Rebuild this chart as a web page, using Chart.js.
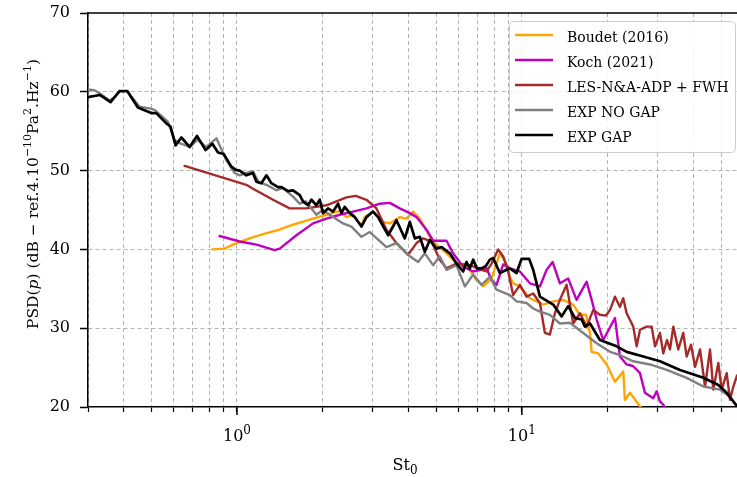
<!DOCTYPE html>
<html>
<head>
<meta charset="utf-8">
<script src="https://cdn.jsdelivr.net/npm/chart.js@4.4.1/dist/chart.umd.min.js"></script>
<style>
  html, body { margin: 0; padding: 0; background: #fff; }
  #wrap { width: 737px; height: 477px; }
</style>
</head>
<body>
<div id="wrap"><canvas id="graficoPsd" width="737" height="477"></canvas></div>
<script>
// eixos
const ticksX = [0.3, 0.4, 0.5, 0.6, 0.7, 0.8, 0.9, 1, 2, 3, 4, 5, 6, 7, 8, 9, 10, 20, 30, 40, 50];
const decadasX = [1, 10];
const ticksY = [20, 30, 40, 50, 60, 70];

const legendas = ['Boudet (2016)', 'Koch (2021)', 'LES-N&A-ADP + FWH', 'EXP NO GAP', 'EXP GAP'];
const cores = ['#ffa500', '#bf00bf', '#a52a2a', '#808080', '#000000'];

// Boudet (2016)
const boudetSt = [0.821, 0.905, 0.968, 1.108, 1.251, 1.413, 1.451, 1.531, 1.661, 1.849,
  2.061, 2.295, 2.423, 2.556, 2.661, 2.735, 2.810, 3.004, 3.258, 3.439,
  3.729, 3.936, 4.151, 4.383, 4.753, 5.017, 5.439, 5.897, 6.394, 6.933,
  7.313, 7.829, 8.370, 8.838, 9.076, 9.320, 9.840, 10.67, 11.88, 12.88,
  13.97, 15.14, 15.99, 16.79, 17.34, 17.58, 18.54, 19.85, 21.22, 22.69,
  23.00, 23.95, 25.98, 27.05];
const boudetPsd = [40.0, 40.1, 40.6, 41.4, 42.0, 42.5, 42.7, 43.0, 43.4, 43.9,
  44.4, 44.9, 44.1, 44.4, 43.5, 43.1, 44.1, 44.8, 43.5, 43.3,
  44.1, 43.9, 44.8, 43.9, 41.6, 40.6, 39.5, 38.3, 38.0, 36.1,
  35.3, 36.3, 39.5, 38.2, 36.5, 35.7, 35.3, 33.8, 33.0, 33.4,
  33.6, 33.0, 31.7, 31.7, 29.4, 27.0, 26.8, 25.4, 23.2, 24.5,
  20.9, 21.8, 20.1, 19.4];

// Koch (2021)
const kochSt = [0.869, 1.022, 1.170, 1.356, 1.413, 1.617, 1.849, 2.061, 2.295, 2.556,
  2.848, 3.171, 3.439, 3.729, 4.043, 4.267, 4.627, 4.880, 5.439, 5.737,
  6.220, 6.745, 7.516, 7.829, 8.149, 8.598, 9.076, 9.840, 10.67, 11.57,
  12.21, 12.82, 13.60, 14.54, 15.56, 16.88, 17.58, 18.30, 19.30, 21.22,
  22.09, 23.32, 24.54, 25.98, 27.04, 28.92, 29.72, 30.53, 31.35, 32.05];
const kochPsd = [41.7, 41.0, 40.6, 39.9, 40.1, 41.8, 43.3, 43.9, 44.4, 44.8,
  45.2, 45.8, 45.9, 45.2, 44.6, 44.1, 42.5, 41.1, 41.1, 39.5,
  37.8, 37.2, 37.6, 36.1, 35.5, 38.1, 37.6, 37.2, 35.7, 35.3,
  37.4, 38.4, 35.7, 36.3, 33.6, 35.9, 33.6, 31.1, 28.5, 31.3,
  26.4, 25.4, 25.2, 24.3, 21.8, 21.1, 22.0, 20.7, 20.3, 19.7];

// LES-N&A-ADP + FWH
const lesSt = [0.655, 1.079, 1.138, 1.338, 1.531, 1.753, 2.061, 2.423, 2.612, 2.848,
  3.087, 3.348, 3.630, 3.987, 4.267, 4.501, 4.818, 5.152, 5.439, 5.897,
  6.567, 7.219, 7.516, 7.829, 8.258, 8.598, 8.954, 9.320, 9.840, 10.39,
  10.96, 11.57, 12.04, 12.54, 13.06, 13.60, 14.36, 15.14, 15.99, 16.88,
  17.80, 18.79, 19.73, 20.38, 21.22, 22.09, 22.69, 23.32, 24.60, 25.29,
  25.98, 27.42, 28.55, 29.33, 30.53, 31.35, 32.31, 33.11, 34.01, 35.40,
  36.86, 37.88, 39.24, 40.54, 42.20, 43.95, 45.76, 46.98, 48.92, 50.28,
  52.36, 53.78, 55.24, 56.92];
const lesPsd = [50.6, 48.2, 47.7, 46.3, 45.2, 45.2, 45.6, 46.6, 46.8, 46.3,
  45.2, 42.5, 40.8, 39.3, 40.8, 41.4, 41.0, 38.7, 37.6, 38.2,
  38.0, 37.4, 37.2, 38.2, 40.0, 39.1, 37.2, 34.2, 35.5, 34.0,
  34.4, 33.2, 29.4, 29.2, 31.9, 33.6, 35.5, 30.6, 31.9, 30.2,
  32.3, 31.7, 31.6, 32.3, 34.0, 32.7, 33.8, 31.9, 30.2, 27.7,
  29.8, 30.2, 30.2, 27.7, 29.4, 26.8, 28.5, 27.3, 30.2, 27.3,
  29.4, 26.4, 27.9, 25.1, 27.3, 22.6, 27.3, 22.2, 25.6, 22.2,
  24.3, 20.9, 22.6, 24.0];

// EXP NO GAP
const semGapSt = [0.299, 0.316, 0.330, 0.357, 0.375, 0.387, 0.411, 0.455, 0.494, 0.514,
  0.572, 0.604, 0.629, 0.682, 0.728, 0.781, 0.847, 0.918, 0.982, 1.022,
  1.079, 1.138, 1.192, 1.269, 1.375, 1.447, 1.573, 1.661, 1.743, 1.900,
  2.000, 2.174, 2.356, 2.522, 2.735, 2.925, 3.348, 3.630, 3.987, 4.323,
  4.564, 4.880, 5.152, 5.439, 5.897, 6.306, 6.745, 7.219, 7.721, 8.149,
  9.076, 9.582, 10.39, 10.96, 11.57, 12.54, 13.60, 14.74, 16.42, 18.30,
  20.38, 22.09, 24.60, 28.16, 32.24, 37.88, 43.35, 49.62, 53.78, 56.92];
const semGapPsd = [60.3, 60.2, 59.8, 58.9, 59.4, 60.0, 60.1, 58.1, 57.9, 57.7,
  56.2, 53.9, 53.5, 53.0, 53.9, 53.0, 54.1, 51.3, 49.7, 49.4,
  49.7, 49.9, 48.5, 48.2, 47.5, 47.8, 46.7, 45.8, 46.1, 44.4,
  45.0, 44.1, 43.3, 42.9, 41.6, 42.2, 40.3, 40.8, 39.3, 38.4,
  39.5, 38.0, 39.1, 37.4, 38.0, 35.3, 36.8, 35.5, 36.5, 34.9,
  34.2, 33.4, 33.2, 32.5, 32.1, 31.7, 30.6, 30.7, 29.4, 28.1,
  27.0, 26.6, 25.8, 25.4, 24.7, 23.7, 22.6, 22.2, 21.3, 20.1];

// EXP GAP
const comGapSt = [0.299, 0.330, 0.360, 0.387, 0.412, 0.449, 0.500, 0.521, 0.565, 0.584,
  0.609, 0.638, 0.682, 0.724, 0.776, 0.820, 0.858, 0.898, 0.956, 0.990,
  1.022, 1.079, 1.138, 1.170, 1.218, 1.269, 1.321, 1.393, 1.432, 1.511,
  1.573, 1.661, 1.705, 1.776, 1.825, 1.900, 1.952, 2.005, 2.087, 2.174,
  2.264, 2.327, 2.389, 2.489, 2.591, 2.735, 2.848, 3.004, 3.128, 3.392,
  3.630, 3.882, 4.043, 4.210, 4.383, 4.564, 4.753, 5.017, 5.224, 5.586,
  5.897, 6.220, 6.394, 6.567, 6.745, 6.950, 7.219, 7.476, 7.721, 7.930,
  8.370, 9.076, 9.582, 9.975, 10.61, 10.96, 11.57, 12.88, 13.79, 14.54,
  15.36, 16.21, 16.65, 17.34, 18.79, 21.51, 23.33, 26.68, 30.53, 35.89,
  43.35, 48.92, 52.36, 55.24, 56.92];
const comGapPsd = [59.3, 59.6, 58.7, 60.1, 60.1, 58.0, 57.3, 57.3, 56.0, 55.6,
  53.2, 54.2, 53.0, 54.4, 52.6, 53.4, 52.3, 52.1, 50.5, 50.1,
  50.0, 49.4, 49.7, 48.6, 48.4, 49.4, 48.4, 47.9, 47.9, 47.4,
  47.5, 46.9, 46.1, 45.6, 46.3, 45.6, 46.3, 44.6, 45.2, 44.8,
  45.8, 44.6, 45.4, 44.6, 44.1, 42.9, 44.1, 44.8, 44.1, 41.8,
  43.7, 41.4, 43.5, 41.4, 41.6, 39.7, 41.2, 40.1, 40.3, 39.5,
  38.2, 37.2, 38.4, 37.6, 38.7, 37.6, 37.6, 37.9, 38.7, 38.9,
  37.0, 37.6, 37.0, 38.8, 38.8, 37.4, 34.0, 33.0, 31.5, 32.8,
  31.3, 31.1, 30.2, 30.6, 28.5, 27.7, 27.0, 26.4, 25.8, 24.7,
  23.7, 22.8, 21.8, 20.7, 20.1];

const series = [
  [boudetSt, boudetPsd],
  [kochSt, kochPsd],
  [lesSt, lesPsd],
  [semGapSt, semGapPsd],
  [comGapSt, comGapPsd]
];

const FONTE = '"DejaVu Serif", serif';

function pontos(xs, ys) {
  return xs.map(function(x, i) { return { x: x, y: ys[i] }; });
}

function fontePara(tipo, tamanho) {
  if (tipo === 'i') return 'italic ' + tamanho + 'px ' + FONTE;
  if (tipo === 's' || tipo === 'b') return Math.round(tamanho * 0.72) + 'px ' + FONTE;
  return tamanho + 'px ' + FONTE;
}

// largura de um texto com partes normais, italicas, sobrescritas e subscritas
function larguraMista(ctx, partes, tamanho) {
  let largura = 0;
  partes.forEach(function(p) {
    ctx.font = fontePara(p[1], tamanho);
    largura += ctx.measureText(p[0]).width;
  });
  return largura;
}

function escreveMisto(ctx, partes, x, y, tamanho) {
  let cx = x;
  partes.forEach(function(p) {
    ctx.font = fontePara(p[1], tamanho);
    let dy = 0;
    if (p[1] === 's') dy = -tamanho * 0.45;
    if (p[1] === 'b') dy = tamanho * 0.25;
    ctx.fillText(p[0], cx, y + dy);
    cx += ctx.measureText(p[0]).width;
  });
}

const tituloY = [
  ['PSD(', 'n'], ['p', 'i'], [') (dB \u2212 ref.4.10', 'n'], ['\u221210', 's'],
  ['Pa', 'n'], ['2', 's'], ['.Hz', 'n'], ['\u22121', 's'], [')', 'n']
];
const tituloX = [['St', 'n'], ['0', 'b']];

const molduraPlugin = {
  id: 'moldura',
  afterDraw: function(chart) {
    const ctx = chart.ctx;
    const area = chart.chartArea;
    const sx = chart.scales.x;
    ctx.save();

    // linha superior
    ctx.strokeStyle = '#000';
    ctx.lineWidth = 1.5;
    ctx.beginPath();
    ctx.moveTo(area.left, area.top);
    ctx.lineTo(area.right, area.top);
    ctx.stroke();

    // ticks maiores nas decadas + rotulos 10^n
    ctx.fillStyle = '#000';
    ctx.textBaseline = 'alphabetic';
    ctx.textAlign = 'left';
    decadasX.forEach(function(v) {
      const px = sx.getPixelForValue(v);
      ctx.beginPath();
      ctx.moveTo(px, area.bottom);
      ctx.lineTo(px, area.bottom + 8);
      ctx.stroke();
      const partes = [['10', 'n'], [String(Math.round(Math.log10(v))), 's']];
      const w = larguraMista(ctx, partes, 16);
      escreveMisto(ctx, partes, px - w / 2, area.bottom + 34, 16);
    });

    // titulo x
    const wx = larguraMista(ctx, tituloX, 16);
    escreveMisto(ctx, tituloX, 405 - wx / 2, area.bottom + 63, 16);

    // titulo y
    ctx.translate(38, 194);
    ctx.rotate(-Math.PI / 2);
    const wy = larguraMista(ctx, tituloY, 15.5);
    escreveMisto(ctx, tituloY, -wy / 2, 0, 15.5);
    ctx.restore();
  }
};

const legendaPlugin = {
  id: 'legendaInterna',
  afterDraw: function(chart) {
    const ctx = chart.ctx;
    const area = chart.chartArea;
    const x0 = area.right - 228, y0 = area.top + 8, w = 226, h = 131;
    ctx.save();
    ctx.fillStyle = 'rgba(255,255,255,0.85)';
    ctx.strokeStyle = '#cccccc';
    ctx.lineWidth = 1;
    ctx.beginPath();
    ctx.roundRect(x0 + 0.5, y0 + 0.5, w, h, 4);
    ctx.fill();
    ctx.stroke();
    ctx.font = '14px ' + FONTE;
    ctx.textBaseline = 'alphabetic';
    ctx.fillStyle = '#000';
    chart.data.datasets.forEach(function(ds, i) {
      const ly = y0 + 14 + i * 25;
      ctx.strokeStyle = ds.borderColor;
      ctx.lineWidth = 2.4;
      ctx.beginPath();
      ctx.moveTo(x0 + 6, ly);
      ctx.lineTo(x0 + 44, ly);
      ctx.stroke();
      ctx.fillText(ds.label, x0 + 58, ly + 7);
    });
    ctx.restore();
  }
};

const ctxPsd = document.getElementById('graficoPsd').getContext('2d');
new Chart(ctxPsd, {
  type: 'line',
  data: {
    datasets: series.map(function(s, i) {
      return {
        label: legendas[i],
        data: pontos(s[0], s[1]),
        borderColor: cores[i],
        borderWidth: i === 4 ? 2.7 : 2.4,
        pointRadius: 0,
        tension: 0,
        fill: false,
        borderJoinStyle: 'round',
        borderCapStyle: 'round',
        order: 5 - i
      };
    })
  },
  options: {
    responsive: false,
    animation: false,
    devicePixelRatio: 1,
    layout: { padding: { left: 0, top: 13, right: 0, bottom: 0 } },
    plugins: {
      legend: { display: false },
      tooltip: { enabled: false }
    },
    scales: {
      x: {
        type: 'logarithmic',
        min: 0.3,
        max: 56.9,
        afterBuildTicks: function(scale) {
          scale.ticks = ticksX.map(function(v) { return { value: v }; });
        },
        afterFit: function(scale) {
          scale.height = 70;
          scale.paddingLeft = 0;
          scale.paddingRight = 0;
        },
        ticks: { display: false },
        grid: {
          color: '#b4b4b4',
          lineWidth: 1,
          tickColor: '#000',
          tickWidth: 1.2,
          tickLength: 5
        },
        border: { color: '#000', width: 1.5, dash: [4, 3] }
      },
      y: {
        type: 'linear',
        min: 20,
        max: 70,
        afterBuildTicks: function(scale) {
          scale.ticks = ticksY.map(function(v) { return { value: v }; });
        },
        afterFit: function(scale) {
          scale.width = 88;
          scale.paddingTop = 0;
          scale.paddingBottom = 0;
        },
        ticks: {
          color: '#000',
          padding: 10,
          font: { family: FONTE, size: 16 }
        },
        grid: {
          color: function(c) {
            return (c.tick && (c.tick.value === 20 || c.tick.value === 70)) ? 'rgba(0,0,0,0)' : '#b4b4b4';
          },
          lineWidth: 1,
          tickColor: '#000',
          tickWidth: 1.5,
          tickLength: 8
        },
        border: { color: '#000', width: 1.5, dash: [4, 3] }
      }
    }
  },
  plugins: [molduraPlugin, legendaPlugin]
});
</script>
</body>
</html>
